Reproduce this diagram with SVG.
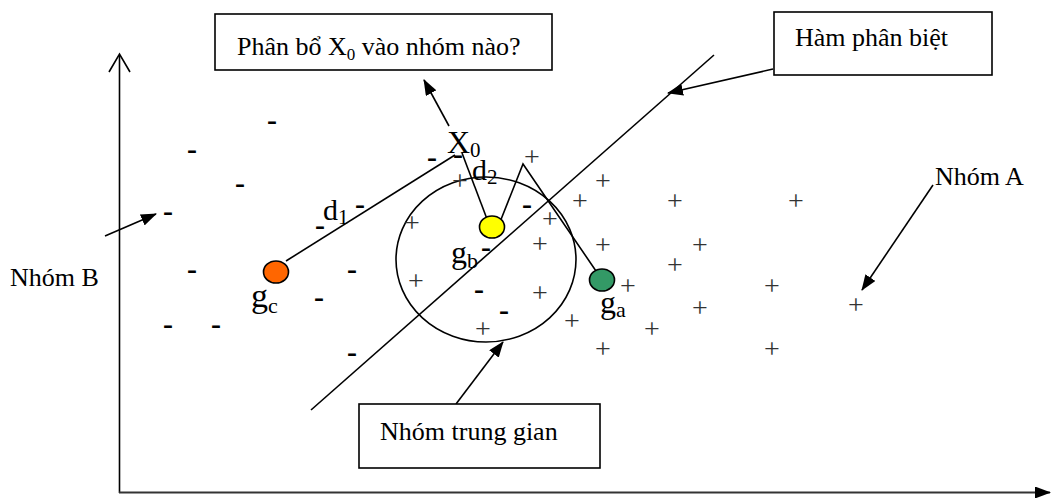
<svg xmlns="http://www.w3.org/2000/svg" width="1051" height="498" viewBox="0 0 1051 498">
<style>
text{font-family:"Liberation Serif","Times New Roman",serif;fill:#000}
.lbl{font-size:26px}
.m{font-size:30px;font-weight:bold;text-anchor:middle}
.p{font-size:28px;fill:#333;text-anchor:middle}
.big{font-size:32px}
.sub{font-size:21px}
.box{fill:#fff;stroke:#000;stroke-width:1.6}
.ln{fill:none;stroke:#000;stroke-width:1.6}
.ar{fill:none;stroke:#000;stroke-width:1.6;marker-end:url(#ah)}
.ctr{stroke:#000;stroke-width:1.6}
</style>
<defs>
<marker id="ah" markerUnits="userSpaceOnUse" markerWidth="16" markerHeight="12" refX="15" refY="6" orient="auto">
<path d="M0,0 L16,6 L0,12 z" fill="#000"/>
</marker>
</defs>
<rect width="1051" height="498" fill="#fff"/>

<g id="axes">
<line x1="119.5" y1="55" x2="119.5" y2="493" class="ln"/>
<polyline points="109,72 119.5,54 130,72" class="ln"/>
<line x1="119" y1="492.5" x2="1050" y2="492.5" stroke="#333" stroke-width="2" marker-end="url(#ah)"/>
</g>

<g id="connectors">
<line x1="311" y1="410" x2="714" y2="55" class="ln"/>
<ellipse cx="486" cy="259.5" rx="90" ry="82.5" class="ln"/>
<line x1="286" y1="261" x2="455" y2="155" class="ln"/>
<line x1="462" y1="153" x2="487" y2="219" class="ln"/>
<polyline points="500,222 523,164 596,271" class="ln"/>
<line x1="449" y1="126" x2="424" y2="80" class="ar"/>
<line x1="773" y1="69" x2="668" y2="93" class="ar"/>
<line x1="105" y1="236" x2="156" y2="214" class="ar"/>
<line x1="933" y1="185" x2="862" y2="290" class="ar"/>
<line x1="456" y1="404" x2="503" y2="342" class="ar"/>
</g>

<g id="box-phan-bo">
<rect x="215" y="14" width="337" height="56" class="box"/>
<text x="237" y="55" class="lbl">Phân bổ X<tspan font-size="17" dy="5">0</tspan><tspan dy="-5"> vào nhóm nào?</tspan></text>
</g>

<g id="box-ham-phan-biet">
<rect x="774" y="12" width="218" height="63" class="box"/>
<text x="795" y="46" class="lbl">Hàm phân biệt</text>
</g>

<g id="box-nhom-trung-gian">
<rect x="359" y="404" width="241" height="64" class="box"/>
<text x="380" y="440" class="lbl">Nhóm trung gian</text>
</g>

<g id="label-nhom-a"><text x="935" y="185" class="lbl">Nhóm A</text></g>
<g id="label-nhom-b"><text x="10" y="286" class="lbl">Nhóm B</text></g>

<g id="label-x0"><text x="447" y="153" class="big">X<tspan class="sub" dy="4">0</tspan></text></g>
<g id="label-d1"><text x="323" y="220" font-size="30">d<tspan class="sub" dy="4">1</tspan></text></g>
<g id="label-d2"><text x="472" y="180" font-size="30">d<tspan class="sub" dy="4">2</tspan></text></g>

<g id="centroid-gc">
<ellipse cx="276" cy="272" rx="12.5" ry="11" fill="#FF6600" class="ctr"/>
<text x="251" y="307" font-size="34">g<tspan font-size="22" dy="6">c</tspan></text>
</g>
<g id="centroid-gb">
<ellipse cx="492" cy="227" rx="12.5" ry="11" fill="#FFFF00" class="ctr"/>
<text x="451" y="263" class="big">g<tspan font-size="22" dy="5">b</tspan></text>
</g>
<g id="centroid-ga">
<ellipse cx="602" cy="280" rx="12.5" ry="11" fill="#339966" class="ctr"/>
<text x="600" y="313" class="big">g<tspan font-size="22" dy="4">a</tspan></text>
</g>

<g id="points-minus">
<text x="272" y="130" class="m">-</text>
<text x="192" y="159" class="m">-</text>
<text x="240" y="193" class="m">-</text>
<text x="168" y="221" class="m">-</text>
<text x="432" y="167" class="m">-</text>
<text x="458" y="164" class="m">-</text>
<text x="360" y="214" class="m">-</text>
<text x="320" y="235" class="m">-</text>
<text x="527" y="214" class="m">-</text>
<text x="486" y="257" class="m">-</text>
<text x="479" y="299" class="m">-</text>
<text x="504" y="320" class="m">-</text>
<text x="192" y="279" class="m">-</text>
<text x="352" y="279" class="m">-</text>
<text x="319" y="307" class="m">-</text>
<text x="168" y="334" class="m">-</text>
<text x="216" y="334" class="m">-</text>
<text x="352" y="362" class="m">-</text>
</g>

<g id="points-plus">
<text x="532" y="166" class="p">+</text>
<text x="460" y="190" class="p">+</text>
<text x="603" y="190" class="p">+</text>
<text x="580" y="210" class="p">+</text>
<text x="675" y="210" class="p">+</text>
<text x="796" y="210" class="p">+</text>
<text x="412" y="232" class="p">+</text>
<text x="550" y="228" class="p">+</text>
<text x="540" y="253" class="p">+</text>
<text x="603" y="254" class="p">+</text>
<text x="700" y="254" class="p">+</text>
<text x="675" y="274" class="p">+</text>
<text x="416" y="290" class="p">+</text>
<text x="628" y="295" class="p">+</text>
<text x="772" y="295" class="p">+</text>
<text x="540" y="302" class="p">+</text>
<text x="700" y="317" class="p">+</text>
<text x="856" y="314" class="p">+</text>
<text x="572" y="330" class="p">+</text>
<text x="652" y="338" class="p">+</text>
<text x="483" y="338" class="p">+</text>
<text x="603" y="358" class="p">+</text>
<text x="772" y="358" class="p">+</text>
</g>
</svg>
